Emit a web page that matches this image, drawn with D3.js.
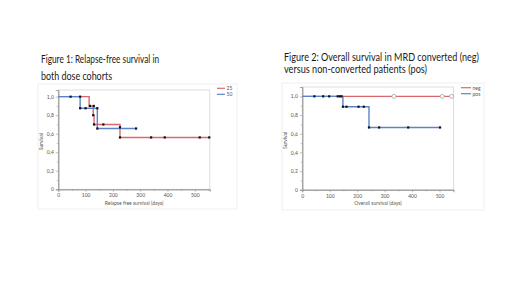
<!DOCTYPE html>
<html>
<head>
<meta charset="utf-8">
<script src="https://cdn.jsdelivr.net/npm/d3@7"></script>
<style>
  body { margin: 0; background: #fff; }
  svg { display: block; }
</style>
</head>
<body>
<div id="chart"></div>
<script>
// Figure 1: relapse-free survival, step points [day, survival]
const rfsSeries = ['25', '50'];
const rfs25Steps = [[0, 1.0], [113, 0.9], [128, 0.8], [131, 0.7], [226, 0.56], [553, 0.56]];
const rfs50Steps = [[0, 1.0], [80, 0.875], [143, 0.656], [285, 0.656]];
const rfs25Marks = [[116, 0.9], [130, 0.9], [128, 0.8], [131, 0.7], [165, 0.7], [226, 0.56], [340, 0.56], [390, 0.56], [518, 0.56], [553, 0.56]];
const rfs50Marks = [[45, 1.0], [80, 1.0], [80, 0.875], [100, 0.875], [143, 0.875], [143, 0.656], [226, 0.67], [285, 0.656]];

// Figure 2: overall survival, MRD neg vs pos
const osSeries = ['neg', 'pos'];
const osNegSteps = [[0, 1.0], [551, 1.0]];
const osPosSteps = [[0, 1.0], [148, 0.889], [243, 0.667], [502, 0.667]];
const osNegMarks = [[334, 1.0], [510, 1.0], [544, 1.0]];
const osPosMarks = [[44, 1.0], [76, 1.0], [98, 1.0], [129, 1.0], [137, 1.0], [143, 1.0], [148, 0.889], [161, 0.889], [205, 0.889], [224, 0.889], [243, 0.667], [280, 0.667], [386, 0.667], [502, 0.667]];

const yTicks = [0, 0.2, 0.4, 0.6, 0.8, 1.0];
const yMinorTicks = [0.1, 0.3, 0.5, 0.7, 0.9];
const xTicks = [0, 100, 200, 300, 400, 500];
const xMinorTicks = [50, 150, 250, 350, 450, 550];

const RED = '#d9686c';
const BLUE = '#5b84c8';
const FONT = 'Lato, "Open Sans", sans-serif';

const svg = d3.select('#chart').append('svg')
  .attr('width', 520).attr('height', 292);

function styleAxis(g) {
  g.selectAll('.domain').attr('stroke', '#999').attr('stroke-width', 0.8);
  g.selectAll('line').attr('stroke', '#999').attr('stroke-width', 0.6);
  g.selectAll('text').attr('font-family', FONT).attr('font-size', 5).attr('fill', '#555');
}

function drawPanel(cfg) {
  // faint outer panel
  svg.append('rect')
    .attr('x', cfg.panel[0]).attr('y', cfg.panel[1])
    .attr('width', cfg.panel[2]).attr('height', cfg.panel[3])
    .attr('fill', 'none').attr('stroke', '#f0f0f0').attr('stroke-width', 1);

  // title lines
  cfg.title.forEach((t, i) => {
    svg.append('text')
      .attr('x', cfg.titleX).attr('y', cfg.titleY[i])
      .attr('font-family', FONT).attr('font-size', cfg.titleSize)
      .attr('fill', '#1a1a1a')
      .attr('textLength', cfg.titleLen[i]).attr('lengthAdjust', 'spacingAndGlyphs')
      .text(t);
  });

  const x = d3.scaleLinear().domain([0, cfg.xMax]).range([cfg.left, cfg.right]);
  const y = d3.scaleLinear().domain([0, cfg.yMax]).range([cfg.bottom, cfg.top]);

  // plot frame
  svg.append('rect')
    .attr('x', cfg.left).attr('y', cfg.top)
    .attr('width', cfg.right - cfg.left).attr('height', cfg.bottom - cfg.top)
    .attr('fill', '#fff').attr('stroke', '#d4d4d4').attr('stroke-width', 0.8);

  const fmt = d => d === 0 ? '0' : d.toFixed(1).replace('.', ',');

  const gxMinor = svg.append('g').attr('transform', `translate(0,${cfg.bottom})`)
    .call(d3.axisBottom(x).tickValues(xMinorTicks.filter(v => v <= cfg.xMax)).tickSize(1.5).tickFormat(''));
  const gx = svg.append('g').attr('transform', `translate(0,${cfg.bottom})`)
    .call(d3.axisBottom(x).tickValues(xTicks).tickSize(2.5).tickPadding(2));
  const gyMinor = svg.append('g').attr('transform', `translate(${cfg.left},0)`)
    .call(d3.axisLeft(y).tickValues(yMinorTicks).tickSize(1.5).tickFormat(''));
  const gy = svg.append('g').attr('transform', `translate(${cfg.left},0)`)
    .call(d3.axisLeft(y).tickValues(yTicks).tickFormat(fmt).tickSize(2.5).tickPadding(2));
  [gxMinor, gx, gyMinor, gy].forEach(styleAxis);

  svg.append('text')
    .attr('x', (cfg.left + cfg.right) / 2).attr('y', cfg.bottom + 15.5)
    .attr('text-anchor', 'middle')
    .attr('font-family', FONT).attr('font-size', 5).attr('fill', '#555')
    .text(cfg.xLabel);
  svg.append('text')
    .attr('transform', `translate(${cfg.left - 15},${(cfg.top + cfg.bottom) / 2 + 2}) rotate(-90)`)
    .attr('text-anchor', 'middle')
    .attr('font-family', FONT).attr('font-size', 5).attr('fill', '#555')
    .text('Survival');

  const step = d3.line().x(d => x(d[0])).y(d => y(d[1])).curve(d3.curveStepAfter);
  cfg.lines.forEach(l => {
    svg.append('path').datum(l.steps)
      .attr('d', step).attr('fill', 'none')
      .attr('stroke', l.color).attr('stroke-width', 1.4);
  });

  cfg.lines.forEach(l => {
    if (l.open) {
      svg.append('g').selectAll('circle').data(l.marks).join('circle')
        .attr('cx', d => x(d[0])).attr('cy', d => y(d[1])).attr('r', 2)
        .attr('fill', '#fff').attr('stroke', '#888').attr('stroke-width', 0.6);
    } else {
      svg.append('g').selectAll('rect').data(l.marks).join('rect')
        .attr('x', d => x(d[0]) - 1.1).attr('y', d => y(d[1]) - 1.1)
        .attr('width', 2.2).attr('height', 2.2).attr('fill', '#111');
    }
  });

  // legend
  cfg.lines.forEach((l, i) => {
    const ly = cfg.legY + i * 6;
    svg.append('line')
      .attr('x1', cfg.legX).attr('x2', cfg.legX + cfg.legW)
      .attr('y1', ly).attr('y2', ly)
      .attr('stroke', l.color).attr('stroke-width', 1.2);
    svg.append('text')
      .attr('x', cfg.legX + cfg.legW + 1.5).attr('y', ly + 1.8)
      .attr('font-family', FONT).attr('font-size', 5).attr('fill', '#555')
      .text(l.name);
  });
}

drawPanel({
  panel: [38, 84, 199, 125],
  title: ['Figure 1: Relapse-free survival in', 'both dose cohorts'],
  titleX: 41, titleY: [62.5, 80], titleSize: 10.5, titleLen: [118, 71],
  left: 58.3, right: 209.8, top: 90, bottom: 189.3, xMax: 555, yMax: 1.072,
  xLabel: 'Relapse free survival (days)',
  lines: [
    { name: rfsSeries[0], color: RED, steps: rfs25Steps, marks: rfs25Marks },
    { name: rfsSeries[1], color: BLUE, steps: rfs50Steps, marks: rfs50Marks }
  ],
  legX: 217, legW: 8, legY: 88.3
});

drawPanel({
  panel: [282, 83, 202, 127],
  title: ['Figure 2: Overall survival in MRD converted (neg)', 'versus non-converted patients (pos)'],
  titleX: 284, titleY: [60.5, 73], titleSize: 11, titleLen: [195, 143],
  left: 302.3, right: 453.5, top: 87, bottom: 189.8, xMax: 551, yMax: 1.1,
  xLabel: 'Overall survival (days)',
  lines: [
    { name: osSeries[0], color: RED, steps: osNegSteps, marks: osNegMarks, open: true },
    { name: osSeries[1], color: BLUE, steps: osPosSteps, marks: osPosMarks }
  ],
  legX: 461, legW: 10, legY: 87.7
});
</script>
</body>
</html>
